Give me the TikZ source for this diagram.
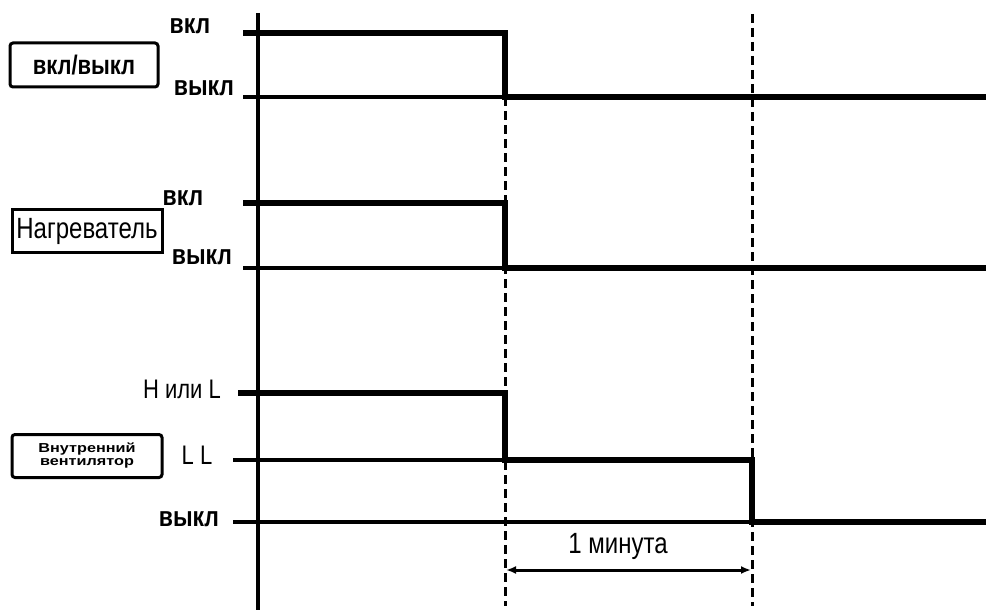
\documentclass[tikz,border=0pt]{standalone}
\usepackage{graphicx}
\usepackage{fontspec}
\setmainfont{Liberation Sans}
\usetikzlibrary{arrows.meta}
\newcommand\tallt[1]{\scalebox{1}[1.22]{#1}}
\begin{document}
\begin{tikzpicture}[x=1pt,y=-1pt,
  sig/.style={line width=6pt},
  baseln/.style={line width=3.5pt},
  axisln/.style={line width=3.5pt},
  guide/.style={line width=3pt, dash pattern=on 9pt off 5pt},
  lbl/.style={font=\fontsize{24}{26}\selectfont, inner sep=0pt},
  blbl/.style={font=\bfseries\fontsize{23}{26}\selectfont, inner sep=0pt},
  sigbox/.style={draw, line width=3pt, minimum width=148pt, minimum height=44pt, inner sep=0pt},
  dimarrow/.style={line width=3pt, {Latex[length=10pt,width=8pt]}-{Latex[length=10pt,width=8pt]}}]
\useasboundingbox (0,0) rectangle (986,610);
% axis
\coordinate (axtop) at (258,13);
\coordinate (axbot) at (258,610);
\draw[axisln] (axtop) -- (axbot);
% guides
\coordinate (g1t) at (505,97);
\coordinate (g1b) at (505,606);
\coordinate (g2t) at (752,14);
\coordinate (g2b) at (752,606);
\draw[guide] (g1t) -- (g1b);
\draw[guide] (g2t) -- (g2b);
% signal 1
\draw[baseln] (243,97) -- (505,97);
\draw[sig] (243,33) -- (505,33) -- (505,97) -- (986,97);
% signal 2
\draw[baseln] (243,268) -- (505,268);
\draw[sig] (243,203) -- (505,203) -- (505,268) -- (986,268);
% signal 3
\draw[baseln] (233,460) -- (505,460);
\draw[baseln] (233,522) -- (752,522);
\draw[sig] (238,393) -- (505,393) -- (505,460) -- (752,460) -- (752,522) -- (986,522);
% labels
\node[blbl] (on1) at (190,26) {\tallt{вкл}};
\node[blbl] (off1) at (204,88) {\tallt{выкл}};
\node[sigbox, rounded corners=3pt] (box1) at (84,65) {\bfseries\fontsize{22}{26}\selectfont\tallt{вкл/выкл}};
\node[blbl] (on2) at (183,198) {\tallt{вкл}};
\node[blbl] (off2) at (202,257) {\tallt{выкл}};
\node[sigbox, minimum width=150pt, minimum height=43pt] (box2) at (87,231) {\fontsize{24}{26}\selectfont\tallt{Нагреватель}};
\node[lbl, font=\fontsize{22}{24}\selectfont] (hl) at (182,389) {\tallt{H или L}};
\node[lbl, font=\fontsize{22}{24}\selectfont] (ll) at (197,455) {\tallt{L L}};
\node[blbl] (off3) at (189,519) {\tallt{выкл}};
\node[sigbox, rounded corners=3pt, minimum width=150pt, minimum height=43pt, align=center,
      font=\bfseries\fontsize{13}{13}\selectfont] (box3) at (87,456)
      {\scalebox{1.25}[1]{Внутренний}\\\scalebox{1.25}[1]{вентилятор}};
% dimension
\coordinate (d1) at (506,570);
\coordinate (d2) at (751,570);
\draw[dimarrow] (d1) -- (d2);
\node[lbl] (dur) at (618,546) {\tallt{1 минута}};
\end{tikzpicture}
\end{document}
